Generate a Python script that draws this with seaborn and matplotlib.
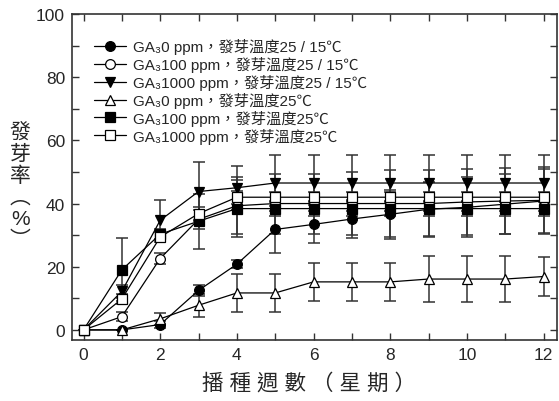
import numpy as np
import pandas as pd
import matplotlib
matplotlib.use("Agg")
import matplotlib.pyplot as plt
from matplotlib.ticker import MultipleLocator
import seaborn as sns

# weeks after sowing
weeks = list(range(13))

# germination % (mean) and error for each treatment
ga0_alt = [0, 0, 1.7, 12.5, 20.8, 31.8, 33.4, 35.1, 36.6, 38.2, 38.8, 39.8, 40.8]
ga0_alt_err = [0, 0, 1.0, 1.8, 1.2, 7.3, 6.0, 6.0, 7.8, 8.5, 9.5, 9.5, 10.0]

ga100_alt = [0, 4.2, 22.6, 35.0, 39.3, 40.0, 40.0, 40.0, 40.0, 40.0, 40.5, 40.8, 41.0]
ga100_alt_err = [0, 1.5, 1.8, 3.0, 9.0, 9.5, 9.5, 10.0, 10.5, 10.5, 10.5, 10.5, 10.5]

ga1000_alt = [0, 12.2, 34.7, 43.8, 45.0, 46.5, 46.5, 46.5, 46.5, 46.5, 46.5, 46.5, 46.5]
ga1000_alt_err = [0, 2.0, 6.3, 9.2, 7.0, 8.8, 8.8, 8.8, 8.8, 8.8, 8.8, 8.8, 8.8]

ga0_const = [0, 0, 3.5, 7.8, 11.7, 11.7, 15.2, 15.2, 15.2, 16.1, 16.1, 16.1, 16.9]
ga0_const_err = [0, 0, 2.0, 3.7, 6.0, 6.0, 6.0, 6.0, 6.0, 7.2, 7.2, 7.2, 6.3]

ga100_const = [0, 19.0, 30.3, 34.4, 38.4, 38.4, 38.4, 38.4, 38.4, 38.4, 38.4, 38.4, 38.4]
ga100_const_err = [0, 10.0, 1.5, 8.7, 9.0, 2.5, 2.5, 2.5, 2.5, 2.5, 2.5, 2.5, 2.5]

ga1000_const = [0, 9.8, 29.4, 36.8, 42.0, 42.0, 42.0, 42.0, 42.0, 42.0, 42.0, 42.0, 42.0]
ga1000_const_err = [0, 1.5, 1.5, 2.0, 2.0, 1.5, 1.5, 1.5, 1.5, 1.5, 1.5, 1.5, 1.5]

labels = [
    "GA₃0 ppm，發芽溫度25 / 15℃",
    "GA₃100 ppm，發芽溫度25 / 15℃",
    "GA₃1000 ppm，發芽溫度25 / 15℃",
    "GA₃0 ppm，發芽溫度25℃",
    "GA₃100 ppm，發芽溫度25℃",
    "GA₃1000 ppm，發芽溫度25℃",
]

series = [
    (ga0_alt, ga0_alt_err, "o", "black"),
    (ga100_alt, ga100_alt_err, "o", "white"),
    (ga1000_alt, ga1000_alt_err, "v", "black"),
    (ga0_const, ga0_const_err, "^", "white"),
    (ga100_const, ga100_const_err, "s", "black"),
    (ga1000_const, ga1000_const_err, "s", "white"),
]

sns.set_style("ticks")
plt.rcParams["font.family"] = ["Liberation Sans", "Noto Sans CJK TC", "DejaVu Sans"]

fig = plt.figure(figsize=(5.59, 4.02), dpi=100)
ax = fig.add_axes([0.1288, 0.1517, 0.8676, 0.811])

for (vals, errs, mk, face), lab in zip(series, labels):
    df = pd.DataFrame({"week": weeks, "pct": vals})
    ax.errorbar(weeks, vals, yerr=errs, fmt="none", ecolor="#333333",
                elinewidth=1.1, capsize=4, capthick=1.1, zorder=2)
    sns.lineplot(data=df, x="week", y="pct", ax=ax, color="black",
                 linewidth=0.9, marker=mk, markersize=6.5 if mk != "o" else 7,
                 markerfacecolor=face, markeredgecolor="black",
                 markeredgewidth=0.9, label=lab, zorder=3)

ax.set_xlim(-0.3, 12.35)
ax.set_ylim(-3.2, 100)
ax.xaxis.set_major_locator(MultipleLocator(2))
ax.xaxis.set_minor_locator(MultipleLocator(1))
ax.yaxis.set_major_locator(MultipleLocator(20))
ax.yaxis.set_minor_locator(MultipleLocator(10))
ax.tick_params(which="both", direction="in", top=True, right=True,
               color="#333333", width=1.0)
ax.tick_params(which="major", length=5, labelsize=12.5, pad=5)
ax.tick_params(which="minor", length=5)
for sp in ax.spines.values():
    sp.set_color("#333333")
    sp.set_linewidth(1.2)

ax.set_xlabel("")
ax.set_ylabel("")
fig.text(0.552, 0.018, "播 種 週 數 （ 星 期 ）", ha="center", va="bottom",
         fontsize=15.5)
fig.text(0.036, 0.535, "發\n芽\n率\n︵\n%\n︶", ha="center", va="center",
         fontsize=15, linespacing=1.15)

leg = ax.legend(loc="upper left", bbox_to_anchor=(0.045, 0.925), frameon=False,
                fontsize=11, handlelength=2.1, handletextpad=0.45,
                labelspacing=0.12, borderpad=0, borderaxespad=0)

fig.savefig("out.png", dpi=100)
